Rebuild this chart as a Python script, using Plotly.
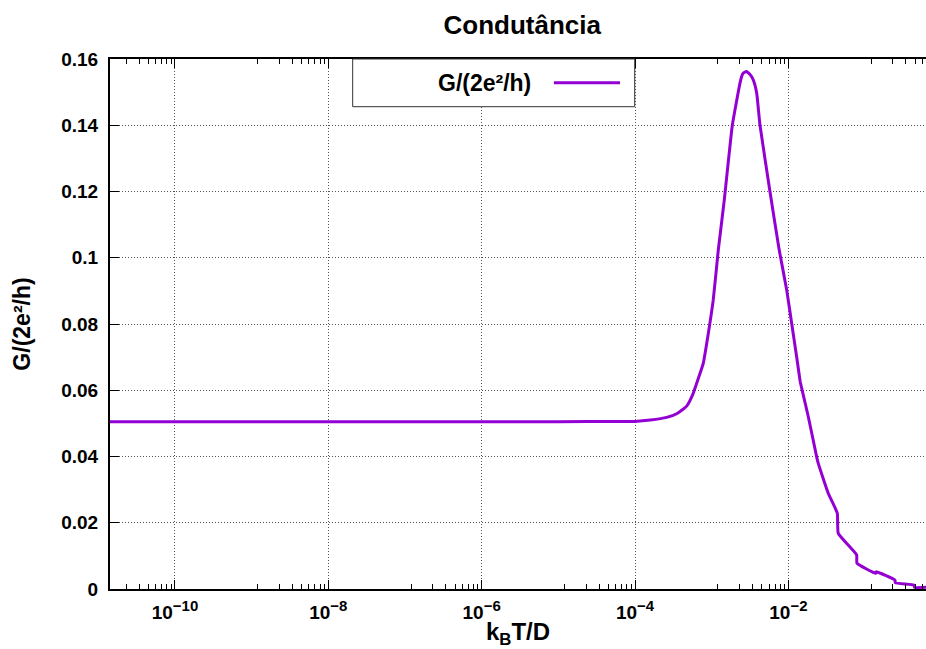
import plotly.graph_objects as go

# Temperature grid (k_B T / D) and linear conductance G in units of 2e^2/h
kT_over_D = [
    1.41e-11, 1e-10, 1e-9, 1e-8, 1e-7, 1e-6, 1e-5, 6.3e-5, 1e-4, 1.58e-4,
    2.59e-4, 3.55e-4, 4.72e-4, 5.62e-4, 6.37e-4, 7.76e-4, 9.04e-4, 1.047e-3,
    1.219e-3, 1.459e-3, 1.858e-3, 2.339e-3, 2.460e-3, 2.570e-3, 2.818e-3,
    3.162e-3, 3.483e-3, 3.864e-3, 4.266e-3, 5.754e-3, 7.603e-3, 9.506e-3,
    1.104e-2, 1.282e-2, 1.416e-2, 1.429e-2, 1.820e-2, 2.339e-2, 2.455e-2,
    3.311e-2, 4.345e-2, 4.477e-2, 7.762e-2, 7.852e-2, 0.1380, 0.1396, 0.2455,
    0.2483, 0.4365, 0.4416, 0.631,
]
conductance = [
    0.0505, 0.0505, 0.0505, 0.0505, 0.0505, 0.0505, 0.0505, 0.0506, 0.0506, 0.0510,
    0.0518, 0.0530, 0.0552, 0.0585, 0.0621, 0.0681, 0.0772, 0.0872,
    0.1023, 0.1174, 0.1400, 0.1527, 0.1547, 0.1557, 0.1562,
    0.1553, 0.1537, 0.1497, 0.1400, 0.1200, 0.1023, 0.0903,
    0.0802, 0.0701, 0.0631, 0.0625, 0.0520, 0.0399, 0.0379,
    0.0289, 0.0229, 0.0168, 0.0103, 0.0078, 0.0047, 0.0052, 0.0027,
    0.0019, 0.0012, 0.0005, 0.0005,
]

x_tick_vals = [1e-10, 1e-8, 1e-6, 1e-4, 1e-2]
x_tick_exponents = ["\u221210", "\u22128", "\u22126", "\u22124", "\u22122"]
x_tick_text = [f"10<sup><span style='font-size:15px'>{e}</span></sup>" for e in x_tick_exponents]
y_tick_vals = [0, 0.02, 0.04, 0.06, 0.08, 0.10, 0.12, 0.14, 0.16]
y_tick_text = ["0", "0.02", "0.04", "0.06", "0.08", "0.1", "0.12", "0.14", "0.16"]

# gnuplot-style minor ticks: 8 evenly spaced (linear) marks inside each 2-decade interval
minor_vals = []
for lo in [1e-12, 1e-10, 1e-8, 1e-6, 1e-4, 1e-2]:
    hi = lo * 100
    for k in range(1, 9):
        minor_vals.append(lo + k * (hi - lo) / 9)

LINE_COLOR = "#9400D3"
FONT = "Liberation Sans, Arial, sans-serif"
GRID_DASH = "1px,2px"

fig = go.Figure()
fig.add_trace(go.Scatter(
    x=kT_over_D, y=conductance, mode="lines",
    line=dict(color=LINE_COLOR, width=3, shape="spline", smoothing=0.4),
    name="G/(2e²/h)", showlegend=False,
))

fig.update_layout(
    width=926, height=649,
    margin=dict(l=110, r=0, t=59, b=60),
    paper_bgcolor="white", plot_bgcolor="white",
    font=dict(family=FONT, color="black"),
    title=dict(text="Condutância", x=0.564, xanchor="center", y=0.962, yanchor="middle",
               font=dict(size=26, weight="bold", family=FONT)),
)

fig.update_xaxes(
    type="log", range=[-10.847, -0.205],
    tickmode="array", tickvals=x_tick_vals, ticktext=x_tick_text,
    ticks="inside", ticklen=9, tickwidth=1, tickcolor="black",
    tickfont=dict(size=19, weight="bold", family=FONT),
    ticklabelstandoff=5,
    showline=True, linecolor="black", linewidth=2, mirror="ticks",
    showgrid=True, gridcolor="#555", griddash=GRID_DASH, gridwidth=1,
    minor=dict(tickmode="array", tickvals=minor_vals, ticks="inside", ticklen=5,
               tickcolor="black", tickwidth=1, showgrid=False),
    zeroline=False,
    title=dict(text="k<sub>B</sub>T/D", standoff=1, font=dict(size=24, weight="bold", family=FONT)),
)

fig.update_yaxes(
    range=[0, 0.16],
    tickmode="array", tickvals=y_tick_vals, ticktext=y_tick_text,
    ticks="inside", ticklen=9, tickwidth=1, tickcolor="black",
    tickfont=dict(size=19, weight="bold", family=FONT),
    ticklabelstandoff=6,
    showline=True, linecolor="black", linewidth=2, mirror=False,
    showgrid=True, gridcolor="#555", griddash=GRID_DASH, gridwidth=1,
    zeroline=False,
    title=dict(text="G/(2e²/h)", standoff=24, font=dict(size=23, weight="bold", family=FONT)),
)

# Key box in the gnuplot layout: label on the left, line sample on the right
fig.add_shape(type="rect", xref="paper", yref="paper", x0=0.2974, x1=0.643, y0=0.910, y1=1.0,
              line=dict(color="#333", width=1), fillcolor="white", layer="above")
fig.add_shape(type="line", xref="paper", yref="paper", x0=0.544, x1=0.625, y0=0.9553, y1=0.9553,
              line=dict(color=LINE_COLOR, width=3), layer="above")
fig.add_annotation(text="G/(2e²/h)", xref="paper", yref="paper", x=0.518, y=0.9553,
                   xanchor="right", yanchor="middle", showarrow=False,
                   font=dict(size=23, weight="bold", family=FONT))

fig.write_html("out.html")
